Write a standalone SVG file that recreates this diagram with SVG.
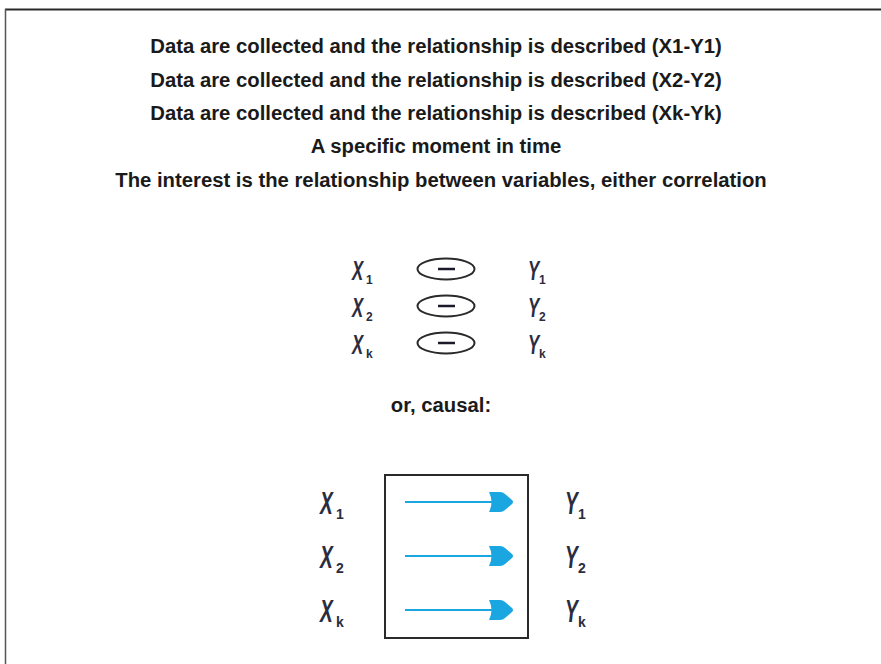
<svg xmlns="http://www.w3.org/2000/svg" width="881" height="664" viewBox="0 0 881 664">
<style>
.t{font-family:"Liberation Sans",Arial,sans-serif;font-weight:bold;font-size:20.3px;fill:#1a1a1a;text-anchor:middle}
.v{font-family:"Liberation Sans",Arial,sans-serif;font-style:italic;font-weight:bold;fill:#2a2c40}
.s{font-family:"Liberation Sans Narrow","Liberation Sans",sans-serif;font-weight:bold;fill:#2a2c40}
.ell{fill:none;stroke:#2a2a2a;stroke-width:2}
.dash{stroke:#1a1a2a;stroke-width:2.5}
.arr{stroke:#1aa6e0;stroke-width:2.2;fill:none}
.head{fill:#1aa6e0}
</style>
<rect width="881" height="664" fill="#fff"/>
<g id="frame">
<line x1="5" y1="9.5" x2="881" y2="9.5" stroke="#2a2a2a" stroke-width="2"/>
<line x1="5.5" y1="9" x2="5.5" y2="664" stroke="#555" stroke-width="1.5"/>
</g>
<g id="texts">
<text class="t" x="436" y="53">Data are collected and the relationship is described (X1-Y1)</text>
<text class="t" x="436" y="87">Data are collected and the relationship is described (X2-Y2)</text>
<text class="t" x="436" y="120">Data are collected and the relationship is described (Xk-Yk)</text>
<text class="t" x="436" y="153">A specific moment in time</text>
<text class="t" x="441" y="187">The interest is the relationship between variables, either correlation</text>
<text class="t" x="441" y="412">or, causal:</text>
</g>
<g id="correlation">
<g id="corr-row1">
<text class="v" x="352" y="280" font-size="28" transform="translate(352 0) scale(0.6 1) translate(-352 0)">X</text>
<text class="s" x="366" y="284" font-size="12">1</text>
<ellipse class="ell" cx="446" cy="269" rx="28.5" ry="10.5"/>
<line class="dash" x1="438" y1="269" x2="455" y2="269"/>
<text class="v" x="528" y="280" font-size="28" transform="translate(528 0) scale(0.6 1) translate(-528 0)">Y</text>
<text class="s" x="539" y="284" font-size="12">1</text>
</g>
<g id="corr-row2">
<text class="v" x="352" y="317" font-size="28" transform="translate(352 0) scale(0.6 1) translate(-352 0)">X</text>
<text class="s" x="366" y="321" font-size="12">2</text>
<ellipse class="ell" cx="446" cy="306" rx="28.5" ry="10.5"/>
<line class="dash" x1="438" y1="306" x2="455" y2="306"/>
<text class="v" x="528" y="317" font-size="28" transform="translate(528 0) scale(0.6 1) translate(-528 0)">Y</text>
<text class="s" x="539" y="321" font-size="12">2</text>
</g>
<g id="corr-row3">
<text class="v" x="352" y="354" font-size="28" transform="translate(352 0) scale(0.6 1) translate(-352 0)">X</text>
<text class="s" x="366" y="358" font-size="12">k</text>
<ellipse class="ell" cx="446" cy="343" rx="28.5" ry="10.5"/>
<line class="dash" x1="438" y1="343" x2="455" y2="343"/>
<text class="v" x="528" y="354" font-size="28" transform="translate(528 0) scale(0.6 1) translate(-528 0)">Y</text>
<text class="s" x="539" y="358" font-size="12">k</text>
</g>
</g>
<g id="causal-box">
<rect x="385" y="475" width="143" height="163" fill="none" stroke="#2a2a2a" stroke-width="2"/>
</g>
<g id="causal-labels">
<text class="v" x="320" y="514" font-size="32" transform="translate(320 0) scale(0.6 1) translate(-320 0)">X</text>
<text class="s" x="336" y="519" font-size="14">1</text>
<text class="v" x="320" y="568" font-size="32" transform="translate(320 0) scale(0.6 1) translate(-320 0)">X</text>
<text class="s" x="336" y="573" font-size="14">2</text>
<text class="v" x="320" y="622" font-size="32" transform="translate(320 0) scale(0.6 1) translate(-320 0)">X</text>
<text class="s" x="336" y="627" font-size="14">k</text>
<text class="v" x="565" y="514" font-size="32" transform="translate(565 0) scale(0.6 1) translate(-565 0)">Y</text>
<text class="s" x="578" y="519" font-size="14">1</text>
<text class="v" x="565" y="568" font-size="32" transform="translate(565 0) scale(0.6 1) translate(-565 0)">Y</text>
<text class="s" x="578" y="573" font-size="14">2</text>
<text class="v" x="565" y="622" font-size="32" transform="translate(565 0) scale(0.6 1) translate(-565 0)">Y</text>
<text class="s" x="578" y="627" font-size="14">k</text>
</g>
<defs>
<path id="ah" d="M-13,-10 L-2,-10 Q1,-10 3,-8 L10,-2 Q12,0 10,2 L3,8 Q1,10 -2,10 L-13,10 Q-8,0 -13,-10 Z"/>
</defs>
<g id="connectors">
<line class="arr" x1="405" y1="502" x2="494" y2="502"/>
<use href="#ah" class="head" x="502" y="502"/>
<line class="arr" x1="405" y1="556" x2="494" y2="556"/>
<use href="#ah" class="head" x="502" y="556"/>
<line class="arr" x1="405" y1="610" x2="494" y2="610"/>
<use href="#ah" class="head" x="502" y="610"/>
</g>
</svg>
